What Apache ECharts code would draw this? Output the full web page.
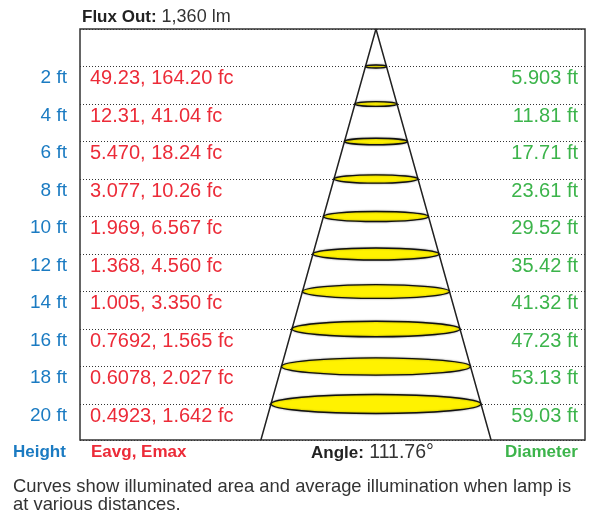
<!DOCTYPE html>
<html>
<head>
<meta charset="utf-8">
<title>Flux Out</title>
<script src="https://cdn.jsdelivr.net/npm/echarts@6/dist/echarts.min.js"></script>
<style>
  html, body { margin: 0; padding: 0; background: #fff; }
  #main { width: 590px; height: 514px; }
</style>
</head>
<body>
<div id="main"></div>
<script>
// values
var heights = [2, 4, 6, 8, 10, 12, 14, 16, 18, 20];
var eavg = ['49.23', '12.31', '5.470', '3.077', '1.969', '1.368', '1.005', '0.7692', '0.6078', '0.4923'];
var emax = ['164.20', '41.04', '18.24', '10.26', '6.567', '4.560', '3.350', '1.565', '2.027', '1.642'];
var diameters = ['5.903', '11.81', '17.71', '23.61', '29.52', '35.42', '41.32', '47.23', '53.13', '59.03'];
var beamAngle = 111.76;
var fluxOut = '1,360';

(function(){
    var myChart = echarts.init(document.getElementById('main'));

    var font = '"Liberation Sans", Arial, sans-serif';
    var yMax = 21.92;   // bottom edge of the box, in ft
    var half = Math.tan(beamAngle / 2 * Math.PI / 180);
    var coneX = half * yMax;

    function rowIndex(v) {
        if (v <= 0 || Math.abs(v % 2) > 1e-6) return -1;
        return heights.indexOf(v);
    }

    var ellipseData = [];
    for (var i = 0; i < heights.length; i++) {
        ellipseData.push([parseFloat(diameters[i]), heights[i]]);
    }

    var baseY = {
        type: 'value',
        inverse: true,
        min: 0,
        max: yMax,
        interval: 2,
        axisLine: {show: false},
        axisTick: {show: false},
        splitLine: {show: false}
    };

    option = {
        animation: false,
        backgroundColor: '#fff',
        title: [{
            text: '{b|Flux Out:} ' + fluxOut + ' lm',
            left: 77,
            top: 3,
            textStyle: {
                fontFamily: font, fontSize: 18, fontWeight: 'normal', color: '#333',
                rich: {b: {fontFamily: font, fontSize: 17, fontWeight: 'bold', color: '#222'}}
            }
        }],
        graphic: [
            {type: 'text', left: 13, top: 444, style: {text: 'Height', font: 'bold 17px ' + font, fill: '#1b7bc2'}},
            {type: 'text', left: 91, top: 444, style: {text: 'Eavg, Emax', font: 'bold 17px ' + font, fill: '#ec2b38'}},
            {type: 'text', left: 311, top: 443, style: {
                text: '{b|Angle:} ' + beamAngle + '°',
                font: '19.5px ' + font, fill: '#333',
                rich: {b: {font: 'bold 17px ' + font, fill: '#222'}}
            }},
            {type: 'text', left: 505, top: 444, style: {text: 'Diameter', font: 'bold 17px ' + font, fill: '#3cb44b'}},
            {type: 'text', left: 13, top: 478, style: {
                text: 'Curves show illuminated area and average illumination when lamp is\nat various distances.',
                font: '18.4px ' + font, fill: '#333', lineHeight: 18
            }}
        ],
        grid: {
            left: 80,
            top: 29,
            right: 5,
            bottom: 74,
            show: true,
            borderColor: '#333',
            borderWidth: 1.5
        },
        xAxis: {
            type: 'value',
            min: -83.2,
            max: 58.76,
            show: false
        },
        yAxis: [
            Object.assign({}, baseY, {
                position: 'left',
                splitLine: {show: true, lineStyle: {color: '#333', width: 1, type: [1, 2]}},
                axisLabel: {
                    margin: 13,
                    verticalAlign: 'top',
                    padding: [2, 0, 0, 0],
                    fontFamily: font, fontSize: 19, color: '#1b7bc2',
                    formatter: function (v) {
                        var k = rowIndex(v);
                        return k < 0 ? '' : heights[k] + ' ft';
                    }
                }
            }),
            Object.assign({}, baseY, {
                position: 'left',
                axisLabel: {
                    inside: true,
                    margin: 10,
                    verticalAlign: 'top',
                    padding: [2, 0, 0, 0],
                    fontFamily: font, fontSize: 20, color: '#ec2b38',
                    formatter: function (v) {
                        var k = rowIndex(v);
                        return k < 0 ? '' : eavg[k] + ', ' + emax[k] + ' fc';
                    }
                }
            }),
            Object.assign({}, baseY, {
                position: 'right',
                axisLabel: {
                    inside: true,
                    margin: 7,
                    verticalAlign: 'top',
                    padding: [2, 0, 0, 0],
                    fontFamily: font, fontSize: 20, color: '#3cb44b',
                    formatter: function (v) {
                        var k = rowIndex(v);
                        return k < 0 ? '' : diameters[k] + ' ft';
                    }
                }
            })
        ],
        series: [
            {
                name: 'cone',
                type: 'line',
                symbol: 'none',
                silent: true,
                lineStyle: {color: '#222', width: 1.5},
                data: [[-coneX, yMax], [0, 0], [coneX, yMax]],
                z: 2
            },
            {
                name: 'area',
                type: 'custom',
                silent: true,
                data: ellipseData,
                renderItem: function (params, api) {
                    var c = api.coord([0, api.value(1)]);
                    var rx = api.size([api.value(0) / 2, 0])[0];
                    var ry = rx * 0.085 + 0.6;
                    return {
                        type: 'ellipse',
                        shape: {cx: c[0], cy: c[1], rx: rx, ry: ry},
                        style: {
                            fill: '#fff200',
                            stroke: '#111',
                            lineWidth: 1.4,
                            shadowBlur: 2,
                            shadowColor: 'rgba(0,0,0,0.4)'
                        }
                    };
                },
                z: 3
            }
        ]
    };

    myChart.setOption(option);
})();
</script>
</body>
</html>
